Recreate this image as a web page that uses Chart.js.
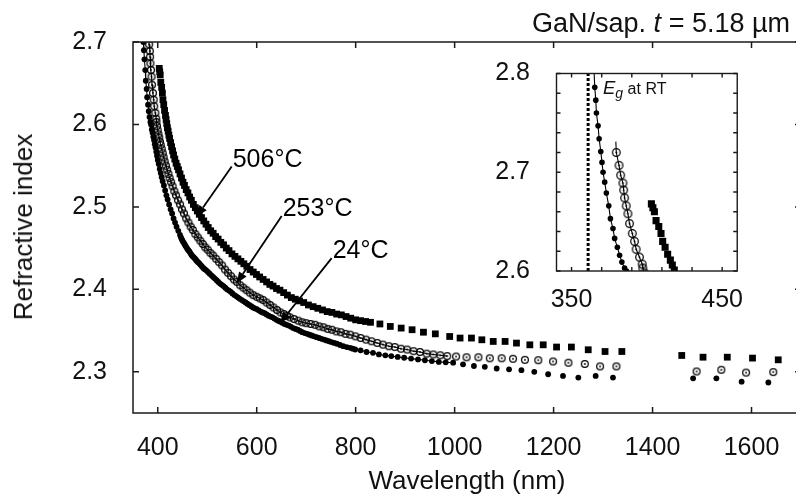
<!DOCTYPE html>
<html>
<head>
<meta charset="utf-8">
<script src="https://cdn.jsdelivr.net/npm/chart.js@4.4.1/dist/chart.umd.min.js"></script>
<style>
  html, body { margin: 0; padding: 0; background: #fff; }
  body { width: 796px; height: 494px; overflow: hidden; position: relative;
         font-family: "Liberation Sans", Arial, Helvetica, sans-serif; color: #111; }
  #mainBox  { position: absolute; left: 0; top: 0; width: 812px; height: 494px; }
  #insetBox { position: absolute; left: 490px; top: 40px; width: 260px; height: 275px; }
  .txt { position: absolute; white-space: nowrap; line-height: 26px; font-size: 26px; }
</style>
</head>
<body>
<div id="mainBox"><canvas id="main"></canvas></div>
<div id="insetBox"><canvas id="inset"></canvas></div>
<div class="txt" style="right:6px;top:10px;font-size:27px">GaN/sap. <i>t</i> = 5.18 µm</div>
<div class="txt" style="left:133px;width:668px;top:467px;text-align:center">Wavelength (nm)</div>
<div class="txt" style="left:23px;top:227px;transform:translate(-50%,-50%) rotate(-90deg)">Refractive index</div>
<div class="txt" style="left:603px;top:79px;font-size:18.5px;line-height:18px"><i>E</i><sub style="font-size:14px;vertical-align:-4px;line-height:0"><i>g</i></sub><span style="font-size:16px"> at RT</span></div>

<script>
// ── data (wavelength nm, refractive index) ──────────────────────────────────
const series24 = [
  [365.4, 2.786], [366.1, 2.773], [366.5, 2.760], [367.6, 2.747], [368.3, 2.734], [369.4, 2.721],
  [370.2, 2.710], [370.9, 2.700], [372.0, 2.690], [373.1, 2.679], [374.7, 2.666], [375.8, 2.653],
  [377.5, 2.643], [378.6, 2.633], [380.4, 2.624], [381.9, 2.616], [383.4, 2.609], [385.2, 2.603],
  [386.5, 2.600], [388, 2.594], [389.5, 2.590], [391, 2.585], [392.5, 2.581], [394, 2.576],
  [395.5, 2.572], [397, 2.567], [398.5, 2.562], [400, 2.557], [402, 2.552], [404, 2.546],
  [406, 2.541], [408, 2.536], [410, 2.531], [412.5, 2.526], [415, 2.520], [417.5, 2.514],
  [420, 2.509], [423, 2.503], [426, 2.497], [429, 2.492], [432, 2.486], [435, 2.481],
  [438, 2.476], [441.5, 2.471], [445, 2.466], [447, 2.463], [448.5, 2.461], [450, 2.459],
  [452, 2.457], [454, 2.455], [456, 2.453], [458, 2.451], [460, 2.449], [462, 2.4475],
  [464, 2.446], [466, 2.444], [468, 2.442], [470, 2.4405], [472.5, 2.439], [475, 2.4375],
  [477, 2.436], [479, 2.4345], [481.5, 2.433], [484, 2.4315], [486, 2.430], [489, 2.428],
  [492, 2.426], [495, 2.4245], [498, 2.423], [501.5, 2.421], [505, 2.419], [508.5, 2.417],
  [512, 2.415], [515.5, 2.413], [519, 2.411], [522.5, 2.409], [526, 2.407], [529.5, 2.4055],
  [533, 2.404], [536.5, 2.402], [540, 2.400], [544, 2.3985], [547.5, 2.397], [551, 2.395],
  [555, 2.393], [559, 2.3915], [562.5, 2.390], [566, 2.3885], [570, 2.387], [574, 2.3855],
  [577.5, 2.384], [581, 2.3825], [585, 2.381], [589, 2.3795], [592.5, 2.378], [596, 2.377],
  [600, 2.376], [604, 2.3745], [608, 2.373], [612, 2.372], [616, 2.371], [620, 2.3695],
  [624, 2.368], [628, 2.367], [632, 2.366], [636, 2.3645], [640, 2.363], [643.5, 2.362],
  [647, 2.361], [651.5, 2.3595], [656, 2.358], [660.5, 2.357], [665, 2.356], [669.5, 2.3545],
  [674, 2.353], [678.5, 2.352], [683, 2.351], [687.5, 2.3495], [692, 2.348], [697, 2.347],
  [702, 2.346], [706.5, 2.345], [711, 2.344], [716, 2.343], [721, 2.342], [726, 2.341],
  [731, 2.340], [736, 2.339], [741, 2.338], [746, 2.337], [751, 2.336], [756.5, 2.335],
  [762, 2.334], [768.5, 2.3325], [775, 2.331], [782, 2.330], [789, 2.329], [794, 2.328],
  [799, 2.327], [810, 2.326], [822, 2.324], [835, 2.323], [847, 2.321],
  [860, 2.320], [872, 2.319], [885, 2.318], [898, 2.317], [912, 2.316], [926, 2.315],
  [940, 2.314], [954, 2.313], [968, 2.312], [982, 2.3115], [997, 2.311], [1017, 2.309],
  [1039, 2.307], [1061, 2.306], [1085, 2.304], [1110, 2.303], [1135, 2.302], [1161, 2.300],
  [1189, 2.297], [1219, 2.295], [1250, 2.293], [1285, 2.295], [1320, 2.293],
  [1482, 2.292], [1529, 2.292], [1580, 2.288], [1634, 2.287]
];

const series253 = [
  [379.7, 2.720], [381.5, 2.707], [382.6, 2.697], [384.1, 2.689], [384.6, 2.682], [385.2, 2.674],
  [386.3, 2.666], [387.4, 2.658], [388.5, 2.648], [390.3, 2.638], [391.8, 2.630], [392.9, 2.622],
  [395.1, 2.614], [396.9, 2.607], [397.3, 2.603], [398.5, 2.598], [400, 2.593], [401.5, 2.588],
  [403, 2.584], [404.5, 2.579], [406, 2.575], [408, 2.570], [410, 2.565], [412, 2.560],
  [414, 2.555], [416.5, 2.550], [419, 2.545], [421.5, 2.540], [424, 2.535], [427, 2.530],
  [430, 2.525], [433.5, 2.519], [437, 2.514], [441, 2.508], [445, 2.503], [449, 2.497],
  [453, 2.492], [457.5, 2.486], [462, 2.481], [466.5, 2.476], [471, 2.472], [476, 2.467],
  [481, 2.463], [486, 2.459], [491, 2.455], [496, 2.451], [501, 2.448], [506.5, 2.444],
  [512, 2.441], [518, 2.437], [524, 2.433], [530, 2.429], [536, 2.424], [542, 2.420],
  [548, 2.416], [554, 2.412], [560, 2.409], [566.5, 2.405], [573, 2.402], [579.5, 2.399],
  [586, 2.396], [593, 2.393], [600, 2.391], [606.5, 2.389], [613, 2.387], [620, 2.384],
  [627, 2.381], [634, 2.378], [641, 2.375], [648, 2.372], [655, 2.370], [661, 2.368],
  [667, 2.366], [675.5, 2.364], [684, 2.362], [692, 2.360], [700, 2.359], [709, 2.358],
  [718, 2.357], [726.5, 2.355], [735, 2.354], [743.5, 2.352], [752, 2.351], [761, 2.349],
  [770, 2.348], [779.5, 2.346], [789, 2.345], [799.5, 2.343], [810, 2.341], [821, 2.339],
  [832, 2.337], [843.5, 2.335], [855, 2.333], [867, 2.331], [879, 2.330], [891.5, 2.328],
  [904, 2.327], [917, 2.325], [930, 2.324], [943.5, 2.322], [957, 2.321], [971, 2.320],
  [985, 2.319], [1003, 2.3185], [1024, 2.3176], [1048, 2.3176], [1071, 2.3164], [1095, 2.3164],
  [1118, 2.3158], [1142, 2.3145], [1169, 2.314], [1199, 2.3125], [1230, 2.311], [1263, 2.3095],
  [1294, 2.3065], [1327, 2.3065],
  [1489, 2.3004], [1539, 2.3024], [1589, 2.299], [1644, 2.2996]
];

const series506 = [
  [403, 2.668], [404, 2.664], [405, 2.660], [406.1, 2.651], [407.9, 2.645], [409.4, 2.638],
  [410.5, 2.630], [412.1, 2.624], [413.8, 2.617], [415.6, 2.611], [416.9, 2.606], [418.2, 2.601],
  [419.5, 2.596], [421, 2.592], [422.5, 2.587], [424, 2.583], [426, 2.578], [428, 2.573],
  [430, 2.568], [432, 2.563], [434.5, 2.558], [437, 2.553], [439.5, 2.549], [442, 2.545],
  [445, 2.540], [448, 2.535], [451, 2.530], [454, 2.526], [457.5, 2.521], [461, 2.517],
  [464.5, 2.512], [468, 2.508], [472, 2.503], [476, 2.499], [480, 2.495], [484, 2.491],
  [488.5, 2.487], [493, 2.483], [497.5, 2.479], [502, 2.475], [507, 2.471], [512, 2.468],
  [517, 2.464], [522, 2.461], [527.5, 2.457], [533, 2.454], [538.5, 2.450], [544, 2.447],
  [550, 2.443], [556, 2.440], [562, 2.437], [568, 2.434], [574, 2.431], [580, 2.428],
  [586.5, 2.424], [593, 2.421], [599.5, 2.418], [606, 2.415], [613, 2.412], [620, 2.409],
  [626.5, 2.406], [633, 2.404], [640, 2.401], [647, 2.399], [654.5, 2.396], [662, 2.393],
  [670, 2.390], [678, 2.388], [686.5, 2.386], [695, 2.384], [704.5, 2.381], [714, 2.379],
  [723.5, 2.377], [733, 2.375], [742.5, 2.373], [752, 2.372], [761.5, 2.370], [771, 2.369],
  [780.5, 2.367], [790, 2.365], [800, 2.363], [810, 2.362], [820, 2.361], [830, 2.360],
  [849, 2.358], [870, 2.355], [892, 2.353], [914, 2.351], [937, 2.348], [961, 2.346],
  [990, 2.3428], [1011, 2.3409], [1034, 2.3409], [1055, 2.3388], [1078, 2.3368], [1102, 2.3368],
  [1125, 2.3348], [1152, 2.3327], [1179, 2.3327], [1206, 2.330], [1236, 2.330], [1270, 2.3267],
  [1304, 2.3246], [1338, 2.3246],
  [1459, 2.3198], [1502, 2.3177], [1551, 2.3177], [1602, 2.3166], [1654, 2.3145]
];

// fitted curves run through the measured points up to this wavelength
const fitEndWl = 1000;
// where the fitted curves start above the first measured point
const fitHead24 = [364.6, 2.815];
const fitHead253 = [379.4, 2.731];

// band gap at room temperature (inset dotted line)
const egWl = 361;

// axes
const xTicks = [400, 600, 800, 1000, 1200, 1400, 1600];
const yTicks = [2.3, 2.4, 2.5, 2.6, 2.7];
const insetXTicks = [350, 370, 390, 410, 430, 450];
const insetXLabels = [350, 450];
const insetYTicks = [2.6, 2.62, 2.64, 2.66, 2.68, 2.7, 2.72, 2.74, 2.76, 2.78, 2.8];
const insetYLabels = [2.6, 2.7, 2.8];

// temperature labels with arrows: [text, tail wl, tail n, tip wl, tip n]
const labelText  = ['506°C', '253°C', '24°C'];
const labelTailWl = [549.5, 650.5, 751.5];
const labelTailN  = [2.5489, 2.4891, 2.4378];
const labelTipWl  = [478.8, 559.6, 647.1];
const labelTipN   = [2.4882, 2.4075, 2.3590];

// ── helpers ─────────────────────────────────────────────────────
const FONT = '"Liberation Sans", Arial, Helvetica, sans-serif';
const toPts = (arr) => arr.map(([x, y]) => ({ x, y }));
const fitLine = (head, arr) => [head, ...arr.filter(([x]) => x <= fitEndWl)].map(([x, y]) => ({ x, y }));

function ringDot(r) {
  const c = document.createElement('canvas');
  const s = Math.ceil(2 * r + 3);
  c.width = c.height = s;
  const g = c.getContext('2d');
  g.strokeStyle = '#000';
  g.lineWidth = 1.25;
  g.beginPath(); g.arc(s / 2, s / 2, r, 0, Math.PI * 2); g.stroke();
  g.fillStyle = '#000';
  g.beginPath(); g.arc(s / 2, s / 2, 0.9, 0, Math.PI * 2); g.fill();
  return c;
}

const lineDs = (data) => ({
  data, showLine: true, pointRadius: 0, borderColor: '#000', borderWidth: 1.1,
  tension: 0, clip: 0,
});
const dotDs = (data, r) => ({
  data, showLine: false, pointStyle: 'circle', pointRadius: r, borderWidth: 0,
  backgroundColor: '#000', clip: 0,
});
const ringDs = (data, r) => ({
  data, showLine: false, pointStyle: ringDot(r), pointRadius: r, clip: 0,
});
const squareDs = (data, r) => ({
  data, showLine: false, pointStyle: 'rect', pointRadius: r, borderWidth: 0,
  backgroundColor: '#000', clip: 0,
});

// frame on four sides with inward tick marks
const frameTicks = {
  id: 'frameTicks',
  afterDatasetsDraw(chart, args, opts) {
    const { ctx, chartArea: a, scales } = chart;
    ctx.save();
    ctx.strokeStyle = '#1a1a1a';
    ctx.lineWidth = opts.width;
    ctx.strokeRect(a.left, a.top, a.right - a.left, a.bottom - a.top);
    ctx.beginPath();
    scales.x.ticks.forEach((t) => {
      const px = scales.x.getPixelForValue(t.value);
      ctx.moveTo(px, a.bottom); ctx.lineTo(px, a.bottom - opts.len);
      ctx.moveTo(px, a.top);    ctx.lineTo(px, a.top + opts.len);
    });
    scales.y.ticks.forEach((t) => {
      const py = scales.y.getPixelForValue(t.value);
      ctx.moveTo(a.left, py);  ctx.lineTo(a.left + opts.len, py);
      ctx.moveTo(a.right, py); ctx.lineTo(a.right - opts.len, py);
    });
    ctx.stroke();
    ctx.restore();
  },
};

// "506°C" style labels with filled arrow heads
const arrowLabels = {
  id: 'arrowLabels',
  afterDatasetsDraw(chart) {
    const { ctx, scales: { x, y } } = chart;
    ctx.save();
    ctx.strokeStyle = '#000';
    ctx.fillStyle = '#000';
    ctx.lineWidth = 1.8;
    ctx.font = '25px ' + FONT;
    labelText.forEach((t, i) => {
      const x0 = x.getPixelForValue(labelTailWl[i]), y0 = y.getPixelForValue(labelTailN[i]);
      const x1 = x.getPixelForValue(labelTipWl[i]),  y1 = y.getPixelForValue(labelTipN[i]);
      const ang = Math.atan2(y1 - y0, x1 - x0), head = 11, half = 4.5;
      const bx = x1 - head * Math.cos(ang), by = y1 - head * Math.sin(ang);
      ctx.beginPath(); ctx.moveTo(x0, y0); ctx.lineTo(bx, by); ctx.stroke();
      ctx.beginPath();
      ctx.moveTo(x1, y1);
      ctx.lineTo(bx + half * Math.sin(ang), by - half * Math.cos(ang));
      ctx.lineTo(bx - half * Math.sin(ang), by + half * Math.cos(ang));
      ctx.closePath(); ctx.fill();
      ctx.fillText(t, x0 + 1, y0);
    });
    ctx.restore();
  },
};

const axisCommon = {
  type: 'linear',
  grid: { display: false },
  border: { display: false },
};
const tickFont = { size: 25, family: FONT };
const near = (v, list) => list.some((w) => Math.abs(v - w) < 1e-6);

// ── main chart ──────────────────────────────────────────────────
new Chart(document.getElementById('main'), {
  type: 'scatter',
  data: {
    datasets: [
      lineDs(fitLine(fitHead24, series24)),
      lineDs(fitLine(fitHead253, series253)),
      ringDs(toPts(series253), 3.4),
      dotDs(toPts(series24), 2.9),
      squareDs(toPts(series506), 4.8),
    ],
  },
  options: {
    animation: false,
    responsive: true,
    maintainAspectRatio: false,
    layout: { padding: { left: 0, top: 42, right: 11, bottom: 0 } },
    plugins: {
      legend: { display: false },
      tooltip: { enabled: false },
      frameTicks: { len: 6, width: 1.5 },
    },
    scales: {
      x: {
        ...axisCommon, min: 350, max: 1700,
        afterBuildTicks: (s) => { s.ticks = xTicks.map((v) => ({ value: v })); },
        afterFit: (s) => { s.height = 81; },
        ticks: { font: tickFont, color: '#111', padding: 12, maxRotation: 0, autoSkip: false,
                 callback: (v) => String(v) },
      },
      y: {
        ...axisCommon, min: 2.25, max: 2.7,
        afterBuildTicks: (s) => { s.ticks = yTicks.map((v) => ({ value: v })); },
        afterFit: (s) => { s.width = 133; },
        ticks: { font: tickFont, color: '#111', padding: 18, autoSkip: false,
                 callback: (v) => v.toFixed(1) },
      },
    },
  },
  plugins: [frameTicks, arrowLabels],
});

// ── inset (band-edge zoom) ──────────────────────────────────────
new Chart(document.getElementById('inset'), {
  type: 'scatter',
  data: {
    datasets: [
      { data: [{ x: egWl, y: 2.6 }, { x: egWl, y: 2.8 }], showLine: true, pointRadius: 0,
        borderColor: '#000', borderWidth: 3, borderDash: [3, 2], clip: 0 },
      lineDs(fitLine(fitHead24, series24)),
      lineDs(fitLine(fitHead253, series253)),
      ringDs(toPts(series253), 3.8),
      dotDs(toPts(series24), 2.8),
      squareDs(toPts(series506), 5),
    ],
  },
  options: {
    animation: false,
    responsive: true,
    maintainAspectRatio: false,
    layout: { padding: { left: 0, top: 26, right: 11.7, bottom: 0 } },
    plugins: {
      legend: { display: false },
      tooltip: { enabled: false },
      frameTicks: { len: 4, width: 1.4 },
    },
    scales: {
      x: {
        ...axisCommon, min: 340, max: 460,
        afterBuildTicks: (s) => { s.ticks = insetXTicks.map((v) => ({ value: v })); },
        afterFit: (s) => { s.height = 44; },
        ticks: { font: tickFont, color: '#111', padding: 6, maxRotation: 0, autoSkip: false,
                 callback: (v) => (near(v, insetXLabels) ? String(v) : '') },
      },
      y: {
        ...axisCommon, min: 2.6, max: 2.8,
        afterBuildTicks: (s) => { s.ticks = insetYTicks.map((v) => ({ value: v })); },
        afterFit: (s) => { s.width = 66.5; },
        ticks: { font: tickFont, color: '#111', padding: 18.5, autoSkip: false,
                 callback: (v) => (near(v, insetYLabels) ? v.toFixed(1) : '') },
      },
    },
  },
  plugins: [frameTicks],
});
</script>
</body>
</html>
